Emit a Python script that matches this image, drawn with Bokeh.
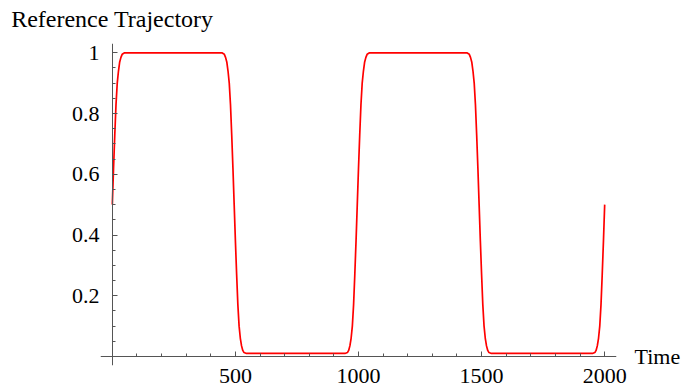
from bokeh.plotting import figure
from bokeh.models import FixedTicker, LinearAxis, Range1d
from bokeh.embed import file_html
from bokeh.resources import INLINE

# Reference trajectory
time = [0, 5, 10, 15, 20, 25, 30, 35, 40, 50,
        445, 455, 460, 465, 470, 475, 480, 485, 490, 495, 500, 505, 510, 515, 520, 525, 530, 535, 545,
        945, 955, 960, 965, 970, 975, 980, 985, 990, 995, 1000, 1005, 1010, 1015, 1020, 1025, 1030, 1035, 1045,
        1440, 1450, 1455, 1460, 1465, 1470, 1475, 1480, 1485, 1490, 1495, 1500, 1505, 1510, 1515, 1520, 1525, 1530, 1540,
        1950, 1960, 1965, 1970, 1975, 1980, 1985, 1990, 1995, 2000]
trajectory = [0.5, 0.62, 0.73, 0.83, 0.9, 0.94, 0.97, 0.985, 0.995, 1.0,
              1.0, 0.995, 0.985, 0.97, 0.94, 0.9, 0.83, 0.73, 0.62, 0.5, 0.38, 0.27, 0.17, 0.1, 0.06, 0.035, 0.02, 0.013, 0.01,
              0.01, 0.013, 0.02, 0.035, 0.06, 0.1, 0.17, 0.27, 0.38, 0.5, 0.62, 0.73, 0.83, 0.9, 0.94, 0.97, 0.985, 0.995, 1.0,
              1.0, 0.995, 0.985, 0.97, 0.94, 0.9, 0.83, 0.73, 0.62, 0.5, 0.38, 0.27, 0.17, 0.1, 0.06, 0.035, 0.02, 0.013, 0.01,
              0.01, 0.013, 0.02, 0.035, 0.06, 0.1, 0.17, 0.27, 0.38, 0.5]

x_major = [500, 1000, 1500, 2000]
x_minor = [100, 200, 300, 400, 600, 700, 800, 900, 1100, 1200, 1300, 1400,
           1600, 1700, 1800, 1900]
y_major = [0.2, 0.4, 0.6, 0.8, 1]
y_labels = ["0.2", "0.4", "0.6", "0.8", "1"]
y_minor = [0.05, 0.1, 0.15, 0.25, 0.3, 0.35, 0.45, 0.5, 0.55, 0.65, 0.7, 0.75,
           0.85, 0.9, 0.95]
title_text = "Reference Trajectory"
x_label = "Time"

FONT = "Liberation Serif"
FSIZE = "22px"
AXIS_COLOR = "#555555"

p = figure(width=683, height=390,
           x_range=Range1d(-48, 2048), y_range=Range1d(-0.0296, 1.0306),
           output_backend="svg", toolbar_location=None,
           min_border_left=100, min_border_right=66,
           min_border_top=43, min_border_bottom=25)
p.xgrid.visible = False
p.ygrid.visible = False
p.outline_line_color = None
p.background_fill_color = "white"
p.border_fill_color = "white"

p.line(time, trajectory, line_color="#ff0000", line_width=1.7)


def label_only(ax, size=FSIZE):
    ax.axis_line_color = None
    ax.major_tick_line_color = None
    ax.minor_tick_line_color = None
    ax.major_tick_in = 0
    ax.major_tick_out = 0
    ax.minor_tick_in = 0
    ax.minor_tick_out = 0
    ax.major_label_text_font = FONT
    ax.major_label_text_font_size = size
    ax.major_label_text_color = "black"


# label axes at the frame edges
xl = p.xaxis[0]
label_only(xl)
xl.ticker = FixedTicker(ticks=x_major, minor_ticks=[])
xl.major_label_standoff = 3

yl = p.yaxis[0]
label_only(yl)
yl.ticker = FixedTicker(ticks=y_major, minor_ticks=[])
yl.major_label_overrides = {v: s for v, s in zip(y_major, y_labels)}
yl.major_label_standoff = 1

# axis lines and ticks crossing at the origin
xa = LinearAxis(fixed_location=0, ticker=FixedTicker(ticks=x_major, minor_ticks=x_minor))
ya = LinearAxis(fixed_location=0, ticker=FixedTicker(ticks=y_major, minor_ticks=y_minor))
for ax in (xa, ya):
    ax.axis_line_color = AXIS_COLOR
    ax.axis_line_width = 1
    ax.major_tick_line_color = AXIS_COLOR
    ax.minor_tick_line_color = AXIS_COLOR
    ax.major_tick_in = 5
    ax.major_tick_out = 0
    ax.minor_tick_in = 3
    ax.minor_tick_out = 0
    ax.major_label_text_color = None
    ax.major_label_text_font_size = "1px"
p.add_layout(xa, "below")
p.add_layout(ya, "left")

# title text above the y axis, axis name right of the x axis
ta = LinearAxis(ticker=FixedTicker(ticks=[0], minor_ticks=[]))
label_only(ta, "24px")
ta.major_label_overrides = {0: title_text}
ta.major_label_standoff = 12
p.add_layout(ta, "above")

ra = LinearAxis(ticker=FixedTicker(ticks=[0], minor_ticks=[]))
label_only(ra)
ra.major_label_overrides = {0: x_label}
ra.major_label_standoff = 18
p.add_layout(ra, "right")

open("out.html", "w").write(file_html(p, INLINE))
